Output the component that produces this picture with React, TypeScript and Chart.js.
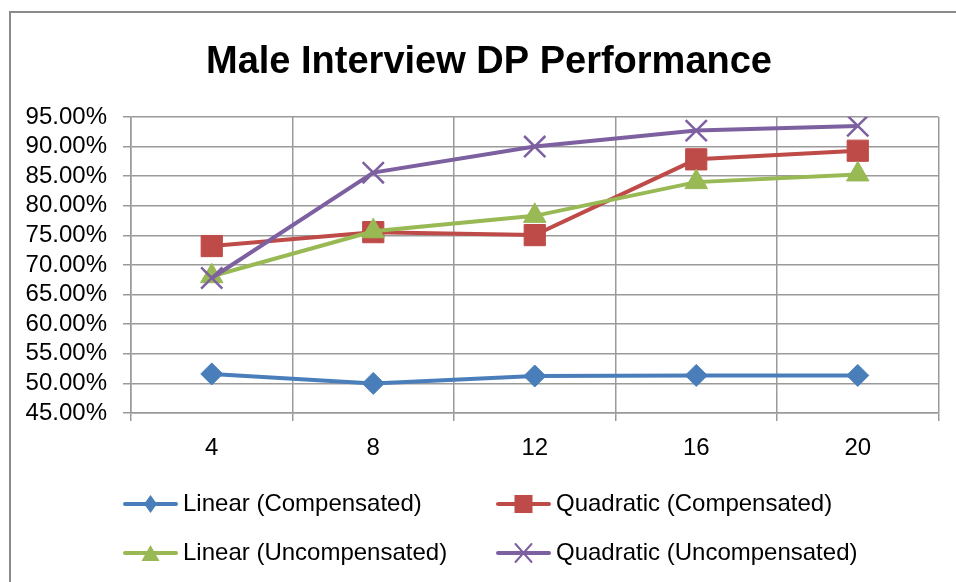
import React, { useEffect, useRef } from 'react';
import { Chart, registerables } from 'chart.js';

Chart.register(...registerables);

const titleText = 'Male Interview DP Performance';
const categories = ['4', '8', '12', '16', '20'];
const seriesNames = [
  'Linear (Compensated)',
  'Quadratic (Compensated)',
  'Linear (Uncompensated)',
  'Quadratic (Uncompensated)',
];
const linearCompensated = [51.6, 50.0, 51.25, 51.35, 51.35];
const quadraticCompensated = [73.2, 75.55, 75.05, 87.85, 89.3];
const linearUncompensated = [68.1, 75.7, 78.3, 84.0, 85.3];
const quadraticUncompensated = [67.8, 85.6, 90.0, 92.7, 93.5];
const yMin = 45;
const yMax = 95;
const yStep = 5;

const FONT = "'Liberation Sans', Arial, sans-serif";
const colors = ['#4A7EBB', '#BE4B48', '#98B954', '#7D60A0'];
const pointStyles = ['rectRot', 'rect', 'triangle', 'crossRot'];
const pointRadii = [11, 15, 13, 15];

function drawLegendMarker(ctx: CanvasRenderingContext2D, style: string, x: number, y: number, color: string) {
  ctx.save();
  ctx.fillStyle = color;
  ctx.strokeStyle = color;
  ctx.beginPath();
  if (style === 'rectRot') {
    ctx.moveTo(x - 6.5, y);
    ctx.lineTo(x, y - 9);
    ctx.lineTo(x + 6.5, y);
    ctx.lineTo(x, y + 9);
    ctx.closePath();
    ctx.fill();
  } else if (style === 'rect') {
    ctx.rect(x - 9, y - 9, 18, 18);
    ctx.fill();
  } else if (style === 'triangle') {
    ctx.moveTo(x, y - 8);
    ctx.lineTo(x + 9, y + 8);
    ctx.lineTo(x - 9, y + 8);
    ctx.closePath();
    ctx.fill();
  } else {
    ctx.lineWidth = 2;
    ctx.moveTo(x - 8, y - 9);
    ctx.lineTo(x + 8, y + 9);
    ctx.moveTo(x + 8, y - 9);
    ctx.lineTo(x - 8, y + 9);
    ctx.stroke();
  }
  ctx.restore();
}

const decorPlugin = {
  id: 'decor',
  beforeDraw(chart: any) {
    const ctx = chart.ctx as CanvasRenderingContext2D;
    ctx.save();
    ctx.fillStyle = '#ffffff';
    ctx.fillRect(0, 0, chart.width, chart.height);
    ctx.strokeStyle = '#8a8a8a';
    ctx.lineWidth = 2;
    ctx.strokeRect(10, 12, chart.width + 20, chart.height + 20);
    ctx.restore();
  },
  afterDraw(chart: any) {
    const ctx = chart.ctx as CanvasRenderingContext2D;
    ctx.save();
    ctx.fillStyle = '#000000';
    ctx.font = `bold 38px ${FONT}`;
    ctx.textAlign = 'center';
    ctx.textBaseline = 'alphabetic';
    ctx.fillText(titleText, 489, 73);

    const cols = [123, 496];
    const rows = [504, 553];
    chart.data.datasets.forEach((ds: any, i: number) => {
      const x0 = cols[i % 2];
      const y = rows[Math.floor(i / 2)];
      ctx.strokeStyle = ds.borderColor;
      ctx.lineWidth = 4;
      ctx.lineCap = 'round';
      ctx.beginPath();
      ctx.moveTo(x0 + 2, y);
      ctx.lineTo(x0 + 53, y);
      ctx.stroke();
      drawLegendMarker(ctx, ds.pointStyle, x0 + 27.5, y, ds.borderColor);
      ctx.fillStyle = '#000000';
      ctx.font = `24px ${FONT}`;
      ctx.textAlign = 'left';
      ctx.textBaseline = 'middle';
      ctx.fillText(ds.label, x0 + 60, y);
    });
    ctx.restore();
  },
};

export default function App() {
  const canvasRef = useRef<HTMLCanvasElement | null>(null);

  useEffect(() => {
    if (!canvasRef.current) return;
    const seriesValues = [linearCompensated, quadraticCompensated, linearUncompensated, quadraticUncompensated];
    const chart = new Chart(canvasRef.current, {
      type: 'line',
      data: {
        labels: categories,
        datasets: seriesValues.map((values, i) => ({
          label: seriesNames[i],
          data: values,
          borderColor: colors[i],
          backgroundColor: colors[i],
          borderWidth: 4,
          pointStyle: pointStyles[i] as any,
          pointRadius: pointRadii[i],
          pointHoverRadius: pointRadii[i],
          pointBackgroundColor: colors[i],
          pointBorderColor: colors[i],
          pointBorderWidth: i === 3 ? 2.5 : 1,
          tension: 0,
          fill: false,
          order: 3 - i,
        })),
      },
      options: {
        responsive: false,
        animation: false,
        events: [],
        layout: { padding: { left: 0, right: 16, top: 117, bottom: 0 } },
        plugins: {
          legend: { display: false },
          title: { display: false },
          tooltip: { enabled: false },
        },
        scales: {
          x: {
            type: 'category',
            offset: true,
            grid: {
              offset: true,
              color: '#9a9a9a',
              lineWidth: 1.5,
              tickLength: 8,
              drawTicks: true,
            },
            border: { display: true, color: '#9a9a9a', width: 1.5 },
            ticks: {
              color: '#000000',
              font: { family: FONT, size: 24 },
              padding: 13,
              maxRotation: 0,
              autoSkip: false,
            },
            afterFit: (scale: any) => {
              scale.height = 169;
            },
          },
          y: {
            min: yMin,
            max: yMax,
            grid: {
              color: '#9a9a9a',
              lineWidth: 1.5,
              tickLength: 8,
            },
            border: { display: true, color: '#9a9a9a', width: 1.5 },
            ticks: {
              stepSize: yStep,
              autoSkip: false,
              color: '#000000',
              font: { family: FONT, size: 24 },
              padding: 16,
              callback: (v: any) => Number(v).toFixed(2) + '%',
            },
            afterFit: (scale: any) => {
              scale.width = 131;
            },
          },
        },
      },
      plugins: [decorPlugin],
    });
    return () => chart.destroy();
  }, []);

  return (
    <div style={{ position: 'absolute', left: 0, top: 0, width: 956, height: 582 }}>
      <canvas ref={canvasRef} width={956} height={582} style={{ display: 'block', width: 956, height: 582 }} />
    </div>
  );
}
